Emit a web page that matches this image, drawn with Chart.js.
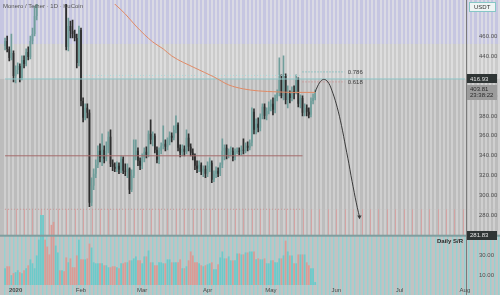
<!DOCTYPE html>
<html>
<head>
<meta charset="utf-8">
<script src="https://cdn.jsdelivr.net/npm/chart.js@4.4.1/dist/chart.umd.min.js"></script>
<style>
  html, body { margin: 0; padding: 0; background: #c8c8c8; overflow: hidden; }
  canvas { display: block; }
</style>
</head>
<body>
<canvas id="chart" width="500" height="295"></canvas>
<script>
// daily candles, Dec 27 2019 onward
const startDate = Date.UTC(2019, 11, 27);
const dayCount = 219;
const monthTicks = { 5: '2020', 36: 'Feb', 65: 'Mar', 96: 'Apr', 126: 'May', 157: 'Jun', 187: 'Jul', 218: 'Aug' };

const opens = [450,455,447,438,443,420,426,430,418,436, 432,444,439,455,462,480,502,516,535,545,
  530,522,514,505,498,526,532,528,530,515, 449,470,465,462,458,433,466,395,378,388,
  383,293,310,322,331,345,338,346,337,345, 359,332,329,327,330,326,337,325,324,327,
  306,320,340,345,335,330,338,344,341,362, 356,360,346,336,345,350,352,349,355,360,
  358,366,371,348,343,347,344,358,349,343, 340,330,327,331,324,327,322,330,333,316,
  322,325,322,331,345,348,341,344,345,338, 344,345,344,346,345,350,348,353,384,366,
  372,368,380,389,380,385,389,392,386,398, 403,416,400,420,396,402,398,405,404,416,
  392,398,383,388,384,381,395,398];
const highs = [458,460,449,462,445,430,433,432,440,440, 447,449,460,468,490,506,520,540,552,550,
  538,530,520,512,530,538,536,534,532,518, 478,475,476,466,462,470,468,398,392,392,
  386,318,327,336,350,352,362,350,354,364, 366,336,333,334,333,340,339,332,332,328,
  326,356,356,348,338,342,348,349,365,376, 364,362,349,348,353,370,356,358,364,363,
  370,380,373,351,351,350,366,362,352,347, 342,335,335,333,330,330,334,338,335,325,
  329,328,333,357,351,351,347,349,348,347, 348,348,350,357,353,354,356,388,387,377,
  378,382,392,392,388,394,396,398,401,406, 438,421,440,422,410,405,409,410,421,418,
  401,400,392,391,388,398,402,406];
const lows = [446,444,435,436,414,413,422,414,416,428, 430,436,437,452,460,476,498,512,528,525,
  518,510,500,496,496,520,522,520,512,446, 445,458,458,455,428,430,390,374,376,378,
  289,290,306,318,328,334,330,333,335,343, 329,325,324,324,322,323,322,320,318,302,
  304,318,336,330,326,327,334,338,339,352, 350,343,333,332,342,347,345,346,351,354,
  356,363,345,339,340,340,342,345,340,336, 326,323,324,321,319,318,319,324,313,314,
  318,319,320,328,336,337,338,340,335,336, 342,341,341,342,343,345,346,350,362,362,
  364,365,377,377,376,382,385,381,383,395, 400,398,396,392,388,393,395,397,402,389,
  388,380,380,380,378,379,392,396];
const closes = [455,447,438,443,420,426,430,418,436,432, 444,439,455,462,480,502,516,535,545,530,
  522,514,505,498,526,532,528,530,515,449, 470,465,462,458,433,466,395,378,388,383,
  293,310,322,331,345,338,346,337,345,359, 332,329,327,330,326,337,325,324,327,306,
  320,340,345,335,330,338,344,341,362,356, 360,346,336,345,350,352,349,355,360,358,
  366,371,348,343,347,344,358,349,343,340, 330,327,331,324,327,322,330,334,316,322,
  325,322,331,345,348,341,344,345,338,344, 345,344,346,345,350,348,353,384,366,372,
  368,380,389,380,385,389,392,386,398,403, 416,400,420,396,402,398,405,404,416,392,
  398,383,388,384,381,395,398,403.81];
const volumes = [17,19,19,10,12,13,15,13,12,15, 17,20,26,22,17,30,46,71,71,46,
  39,31,61,64,40,33,15,15,14,28, 23,27,18,18,30,46,26,26,26,27,
  42,38,23,22,22,22,22,20,20,18, 18,19,19,18,17,22,22,23,23,25,
  25,27,29,25,25,22,29,29,35,23, 23,20,20,23,23,22,22,26,26,23,
  23,23,23,26,17,17,19,25,34,30, 23,23,22,20,19,20,21,22,23,16,
  16,21,28,34,27,27,29,25,25,25, 32,32,31,31,33,33,34,34,34,26,
  27,26,26,27,22,22,25,25,23,23, 27,27,30,45,34,30,30,22,22,31,
  31,31,31,23,20,17,17,3];

// moving average (sparse points)
const maIdx = [48, 52, 57, 62, 70, 75, 79, 90, 99, 106, 113, 120, 129, 137, 147];
const maVal = [500, 492, 482, 470, 454, 447, 440, 428, 419, 411, 407, 405, 404, 403.5, 403.5];

// projected path drawn after the last candle
const projIdx = [147,148,149,150,151,152,153,154,155,156,157,158,159,160,161,162,163,164,165,166,167,168];
const projVal = [403.81,409,413,415.5,416.5,416,414,410.5,405,399,392,384,375,365,354,343,332,320,309,298,288,279];

const priceTicks = [460, 440, 420, 400, 380, 360, 340, 320, 300, 280];
const volumeTicks = [30, 10];
const srLevel = 416.93;
const supportLevel = 340;
const lowerLevel = 286.5;
const upperDotLevel = 420.5;
const fibLevels = [424, 414];
const fibLabels = ['0.786', '0.618'];
const bandLevels = [452, srLevel, lowerLevel];
const dailySR = '281.83';
const countdown = '23:38:22';

const labels = [];
for (let i = 0; i < dayCount; i++) {
  labels.push(new Date(startDate + i * 86400000).toISOString().slice(0, 10));
}

const up = closes.map((c, i) => c >= opens[i]);
const candleColors = up.map(u => u ? '#709e9b' : '#2e2e2e');
const volumeColors = up.map(u => u ? '#6ccaca' : '#d99c96');

function levelLine(level, from, to, color, dash) {
  return {
    type: 'line',
    data: [{ x: labels[from], y: level }, { x: labels[to], y: level }],
    borderColor: color,
    borderWidth: 1,
    borderDash: dash || [],
    pointRadius: 0,
    yAxisID: 'y',
    order: -1
  };
}

const backdrop = {
  id: 'backdrop',
  beforeDraw(chart) {
    const { ctx, scales: { x, y, yv } } = chart;
    const W = chart.width, H = chart.height;
    ctx.save();
    ctx.fillStyle = '#c6c6c6';
    ctx.fillRect(0, 0, W, H);
    const step = x.getPixelForValue(1) - x.getPixelForValue(0);
    const band = (top, bot, base, stripe, every, w) => {
      ctx.fillStyle = base;
      ctx.fillRect(0, top, W, bot - top);
      ctx.fillStyle = stripe;
      for (let px = x.getPixelForValue(0); px < W; px += step * every) {
        ctx.fillRect(Math.round(px - w / 2), top, w, bot - top);
      }
    };
    const yLav = y.getPixelForValue(bandLevels[0]);
    const ySR = y.getPixelForValue(bandLevels[1]);
    const yLow = y.getPixelForValue(bandLevels[2]);
    band(0, yLav, '#c6c6e1', '#dadae4', 2, 2);
    band(yLav, ySR, '#cbcbcb', '#dddddd', 2, 2);
    band(ySR, yLow, '#bcbcbc', '#cfcfcf', 2, 2);
    band(yLow, y.bottom, '#bdbdbd', '#cfcfcf', 2, 2);
    ctx.fillStyle = '#d4a3a3';
    for (let px = x.getPixelForValue(1); px < chart.chartArea.right; px += step * 4) {
      ctx.fillRect(Math.round(px), yLow, 1, y.bottom - yLow);
    }
    band(yv.top, H, '#c2c2c2', '#97d1d1', 2, 1.5);
    ctx.restore();
  }
};

const overlay = {
  id: 'overlay',
  afterDraw(chart) {
    const { ctx, chartArea: a, scales: { x, y, yv } } = chart;
    ctx.save();
    ctx.fillStyle = '#7f9e9f';
    ctx.fillRect(0, yv.top - 1, chart.width, 2);
    ctx.fillStyle = '#7a7a7a';
    ctx.fillRect(a.right, 0, 1, chart.height);

    ctx.font = '6px "Liberation Sans"';
    ctx.textBaseline = 'middle';
    const tag = (yPix, lines, bg, fg) => {
      const h = 3 + lines.length * 6;
      ctx.fillStyle = bg;
      ctx.fillRect(a.right + 1, Math.round(yPix - h / 2), 30, h);
      ctx.fillStyle = fg;
      lines.forEach((t, k) => ctx.fillText(t, a.right + 4, yPix - h / 2 + 4.5 + k * 6));
    };
    tag(y.getPixelForValue(srLevel), [srLevel.toFixed(2)], '#2f3535', '#e6e6e6');
    tag(y.getPixelForValue(closes[closes.length - 1]), [closes[closes.length - 1].toFixed(2), countdown], '#9c9c9c', '#2a2a2a');
    tag(yv.top, [dailySR], '#2f3535', '#e6e6e6');

    // fib labels
    ctx.fillStyle = '#3c3c3c';
    const fx = x.getPixelForValue(161) + 3;
    fibLevels.forEach((lv, k) => ctx.fillText(fibLabels[k], fx, y.getPixelForValue(lv)));

    // month labels on the time axis
    ctx.textAlign = 'center';
    Object.keys(monthTicks).forEach(k => {
      const i = Number(k);
      ctx.font = (i === 5 ? 'bold ' : '') + '6px "Liberation Sans"';
      ctx.fillStyle = '#4a4a4a';
      ctx.fillText(monthTicks[k], x.getPixelForValue(i), a.bottom + 5);
    });

    // title, currency box, indicator name
    ctx.textAlign = 'left';
    ctx.font = '6px "Liberation Sans"';
    ctx.fillStyle = '#555';
    ctx.fillText('Monero / Tether · 1D · KuCoin', 3, 6);
    ctx.fillStyle = '#eef4f4';
    ctx.fillRect(469, 2, 27, 10);
    ctx.strokeStyle = '#86c6c6';
    ctx.lineWidth = 1;
    ctx.strokeRect(469.5, 2.5, 26, 9);
    ctx.fillStyle = '#333';
    ctx.fillText('USDT', 474, 7.5);
    ctx.font = 'bold 6px "Liberation Sans"';
    ctx.textAlign = 'right';
    ctx.fillStyle = '#2a2a2a';
    ctx.fillText('Daily S/R', a.right - 3, yv.top + 6);
    ctx.restore();
  }
};

Chart.defaults.font.family = '"Liberation Sans", sans-serif';

new Chart(document.getElementById('chart'), {
  type: 'bar',
  data: {
    labels: labels,
    datasets: [
      {
        type: 'line',
        label: 'Projection',
        data: projIdx.map((i, k) => ({ x: labels[i], y: projVal[k] })),
        borderColor: '#3a3a3a',
        borderWidth: 1,
        cubicInterpolationMode: 'monotone',
        pointRadius: c => c.dataIndex === projIdx.length - 1 ? 2.5 : 0,
        pointStyle: 'triangle',
        rotation: 180,
        pointBackgroundColor: '#3a3a3a',
        pointBorderWidth: 0,
        yAxisID: 'y',
        order: -3
      },
      {
        type: 'line',
        label: 'MA',
        data: maIdx.map((i, k) => ({ x: labels[i], y: maVal[k] })),
        borderColor: '#e08a66',
        borderWidth: 1,
        cubicInterpolationMode: 'monotone',
        pointRadius: 0,
        yAxisID: 'y',
        order: -2
      },
      levelLine(srLevel, 0, dayCount - 1, '#8ec6c8'),
      levelLine(upperDotLevel, 37, 141, '#a9dcdc', [1, 2]),
      levelLine(supportLevel, 0, 141, '#a46c6c'),
      levelLine(lowerLevel, 0, 141, '#c99494', [1, 2]),
      levelLine(fibLevels[0], 141, 161, '#58b4b4', [1, 2]),
      levelLine(fibLevels[1], 141, 161, '#d08282', [1, 2]),
      {
        label: 'Body',
        data: opens.map((o, i) => [o, closes[i]]),
        backgroundColor: candleColors,
        barPercentage: 0.75,
        categoryPercentage: 1,
        minBarLength: 1,
        grouped: false,
        yAxisID: 'y',
        order: 1
      },
      {
        label: 'Wick',
        data: lows.map((l, i) => [l, highs[i]]),
        backgroundColor: candleColors,
        barThickness: 1,
        grouped: false,
        yAxisID: 'y',
        order: 2
      },
      {
        label: 'Volume',
        data: volumes,
        backgroundColor: volumeColors,
        barPercentage: 0.85,
        categoryPercentage: 1,
        grouped: false,
        clip: false,
        yAxisID: 'yv',
        order: 5
      }
    ]
  },
  options: {
    responsive: false,
    devicePixelRatio: 1,
    animation: false,
    layout: { padding: 0 },
    plugins: { legend: { display: false }, tooltip: { enabled: false } },
    scales: {
      x: {
        offset: true,
        grid: { display: false },
        border: { display: false },
        ticks: { display: false },
        afterFit: s => { s.height = 10; s.paddingLeft = 0; s.paddingRight = 0; }
      },
      y: {
        position: 'right',
        stack: 'pane',
        stackWeight: 235,
        min: 260,
        max: 492,
        grid: { display: false },
        border: { display: false },
        afterBuildTicks: s => { s.ticks = priceTicks.map(v => ({ value: v })); },
        ticks: { padding: 5, color: '#4e4e4e', font: { size: 6 }, callback: v => v.toFixed(2) },
        afterFit: s => { s.width = 34; s.paddingTop = 0; s.paddingBottom = 0; }
      },
      yv: {
        position: 'right',
        stack: 'pane',
        stackWeight: 50,
        min: 0,
        max: 50,
        grid: { display: false },
        border: { display: false },
        afterBuildTicks: s => { s.ticks = volumeTicks.map(v => ({ value: v })); },
        ticks: { padding: 5, color: '#4e4e4e', font: { size: 6 }, callback: v => v.toFixed(2) },
        afterFit: s => { s.width = 34; s.paddingTop = 0; s.paddingBottom = 0; }
      }
    }
  },
  plugins: [backdrop, overlay]
});
</script>
</body>
</html>
